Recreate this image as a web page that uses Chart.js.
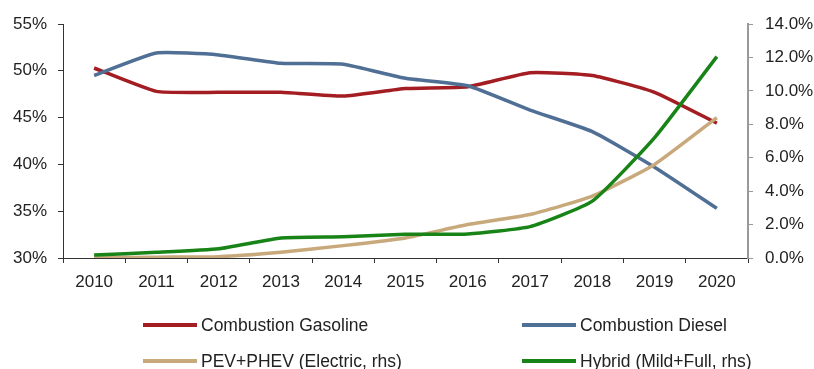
<!DOCTYPE html>
<html>
<head>
<meta charset="utf-8">
<script src="https://cdn.jsdelivr.net/npm/chart.js@4/dist/chart.umd.min.js"></script>
<style>
  html, body { margin: 0; padding: 0; background: #fff; }
  #wrap { position: relative; width: 814px; height: 369px; }
  #chartBox { position: absolute; left: 0; top: 0; width: 814px; height: 300px; }
  #legend { position: absolute; left: 0; top: 0; width: 814px; height: 369px; pointer-events: none;
            font-family: "Liberation Sans", Arial, sans-serif; font-size: 17.5px; color: #222; }
  .item { position: absolute; display: flex; align-items: center; white-space: nowrap; }
  .swatch { width: 54px; height: 4px; margin-right: 4px; }
</style>
</head>
<body>
<div id="wrap">
  <div id="chartBox"><canvas id="powertrainChart"></canvas></div>
  <div id="legend"></div>
</div>
<script>
// chart data
const years = ['2010', '2011', '2012', '2013', '2014', '2015', '2016', '2017', '2018', '2019', '2020'];
const gasoline = [50.3, 47.8, 47.7, 47.7, 47.3, 48.1, 48.3, 49.8, 49.5, 47.7, 44.4];
const diesel = [49.5, 51.9, 51.7, 50.8, 50.7, 49.2, 48.4, 45.8, 43.5, 39.7, 35.3];
const electric = [0.02, 0.05, 0.08, 0.34, 0.74, 1.2, 2.0, 2.6, 3.7, 5.6, 8.4];
const hybrid = [0.18, 0.34, 0.55, 1.2, 1.27, 1.42, 1.44, 1.88, 3.4, 7.2, 12.05];

const leftTicks = [30, 35, 40, 45, 50, 55];
const rightTicks = [0, 2, 4, 6, 8, 10, 12, 14];

const seriesNames = ['Combustion Gasoline', 'Combustion Diesel', 'PEV+PHEV (Electric, rhs)', 'Hybrid (Mild+Full, rhs)'];
const seriesColors = ['#a31d22', '#4f6f95', '#c8a97c', '#188418'];

const axisFont = { family: '"Liberation Sans", Arial, sans-serif', size: 17 };

function makeLine(i, data, axis) {
    return {
        label: seriesNames[i],
        data: data,
        yAxisID: axis,
        borderColor: seriesColors[i],
        backgroundColor: seriesColors[i],
        borderWidth: 3.5,
        pointRadius: 0,
        tension: 0.15,
        fill: false
    };
}

const ctx = document.getElementById('powertrainChart').getContext('2d');
const chart = new Chart(ctx, {
    type: 'line',
    data: {
        labels: years,
        datasets: [
            makeLine(3, hybrid, 'yR'),
            makeLine(2, electric, 'yR'),
            makeLine(1, diesel, 'yL'),
            makeLine(0, gasoline, 'yL')
        ]
    },
    options: {
        responsive: true,
        maintainAspectRatio: false,
        animation: false,
        layout: { padding: { top: 24, left: 0, right: 0, bottom: 0 } },
        plugins: {
            legend: { display: false },
            tooltip: { enabled: false }
        },
        scales: {
            x: {
                offset: true,
                grid: { offset: true, drawOnChartArea: false, drawTicks: true, tickLength: 5, color: '#333' },
                border: { color: '#333', width: 1 },
                ticks: { color: '#222', font: axisFont, padding: 9, maxRotation: 0 },
                afterFit: function(scale) { scale.height = 42; }
            },
            yL: {
                position: 'left',
                min: 30, max: 55,
                afterBuildTicks: function(scale) { scale.ticks = leftTicks.map(v => ({ value: v })); },
                grid: { drawOnChartArea: false, drawTicks: true, tickLength: 5, color: '#333' },
                border: { color: '#333', width: 1 },
                ticks: { color: '#222', font: axisFont, padding: 11, callback: v => v + '%' },
                afterFit: function(scale) { scale.width = 63; }
            },
            yR: {
                position: 'right',
                min: 0, max: 14,
                afterBuildTicks: function(scale) { scale.ticks = rightTicks.map(v => ({ value: v })); },
                grid: { drawOnChartArea: false, drawTicks: true, tickLength: 5, color: '#999' },
                border: { color: '#999', width: 2 },
                ticks: { color: '#222', font: axisFont, padding: 12, callback: v => v.toFixed(1) + '%' },
                afterFit: function(scale) { scale.width = 66; }
            }
        }
    }
});

// legend in two columns below the chart
const legendPos = [
    { left: 143, top: 325 },
    { left: 522, top: 325 },
    { left: 143, top: 361 },
    { left: 522, top: 361 }
];
const legendEl = document.getElementById('legend');
seriesNames.forEach((name, i) => {
    const item = document.createElement('div');
    item.className = 'item';
    item.style.left = legendPos[i].left + 'px';
    item.style.top = (legendPos[i].top - 11) + 'px';
    item.style.height = '22px';
    const sw = document.createElement('span');
    sw.className = 'swatch';
    sw.style.background = seriesColors[i];
    const txt = document.createElement('span');
    txt.textContent = name;
    item.appendChild(sw);
    item.appendChild(txt);
    legendEl.appendChild(item);
});
</script>
</body>
</html>
